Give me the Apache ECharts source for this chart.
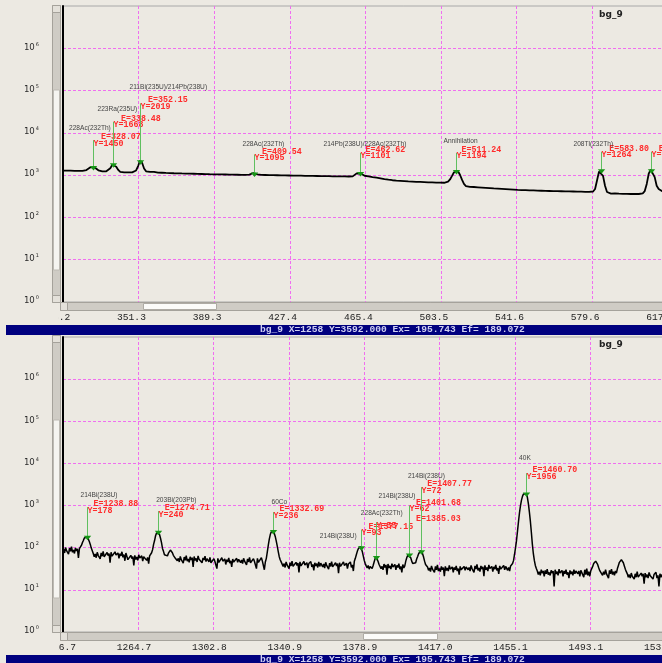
<!DOCTYPE html>
<html>
<head>
    <meta charset="utf-8" />
    <title>bg_9 spectrum</title>
    <script src="https://cdn.jsdelivr.net/npm/echarts@6/dist/echarts.min.js"></script>
    <style>
        html, body {
            margin: 0;
            padding: 0;
            overflow: hidden;
            background: #ece9e2
        }

        #spectrum {
            width: 800px;
            height: 663px
        }
    </style>
</head>
<body>
    <div id="spectrum"></div>

    <script>
        // ---- top panel: 313 - 616 keV, one value per keV ----
        const topStartE = 313;
        const topChannel = 1;
        const topCounts = [
            1282, 1268, 1276, 1259, 1281, 1270, 1262, 1285, 1266, 1274,
            1262, 1290, 1320, 1400, 1530, 1610, 1540, 1400, 1300, 1245, 1228,
            1218, 1232, 1290, 1450, 1760, 1850, 1580, 1330, 1190, 1150,
            1158, 1142, 1160, 1148, 1166, 1190, 1290,
            1640, 2200, 1960, 1440, 1230, 1175,
            1190, 1215, 1195, 1160, 1142, 1130, 1138,
            1118, 1126, 1108, 1122, 1102, 1110, 1094, 1106, 1088, 1097,
            1080, 1092, 1074, 1085, 1066, 1078, 1060, 1070, 1052, 1064,
            1046, 1058, 1040, 1052, 1036, 1048, 1030, 1044, 1026, 1040,
            1022, 1036, 1018, 1030, 1014, 1026, 1010, 1022, 1004, 1018,
            1000, 1014, 1008, 1030, 1080, 1125, 1100, 1040,
            1004, 1012, 996, 1008, 990, 1002, 986, 998, 980, 994,
            978, 990, 972, 986, 968, 982, 964, 978, 962, 974,
            958, 970, 954, 966, 950, 962, 946, 958, 942, 954,
            940, 950, 936, 946, 932, 944, 930, 940, 926, 938,
            924, 934, 920, 932, 918, 928, 920, 936,
            990, 1100, 1160, 1090, 1000,
            968, 950, 936, 916, 900, 884, 870, 852, 840, 822,
            808, 794, 782, 768, 758, 744, 740, 728, 732, 718,
            722, 708, 712, 700, 704, 692, 696, 684, 690, 678,
            684, 672, 678, 666, 672, 660, 666, 656, 662, 652,
            660, 668, 700, 790, 960, 1170, 1290, 1240, 1020, 780, 620, 552, 536,
            528, 520, 524, 512, 516, 504, 508, 496, 500, 488,
            492, 480, 484, 474, 478, 466, 472, 460, 466, 454,
            460, 448, 454, 442, 448, 438, 444, 434, 440, 430,
            436, 426, 434, 424, 430, 420, 428, 418, 424, 414,
            422, 412, 420, 410, 418, 408, 416, 406, 414, 404,
            412, 402, 410, 400, 408, 398, 406, 398, 404, 396,
            402, 398,
            410, 470, 760, 1220, 1350, 960, 560, 400, 372,
            366, 360, 368, 358, 364, 354, 362, 352, 360, 350,
            358, 352, 360, 350, 358, 356,
            372, 420, 620, 1080, 1350, 1220, 900, 560, 470, 430, 410, 400
        ];
        const topE0 = 313.2;
        const topStep = 38.05;
        const topTicks = ['313.2', '351.3', '389.3', '427.4', '465.4', '503.5', '541.6', '579.6', '617.7', '655.7'];

        const topPeakE = [328.07, 338.48, 352.15, 409.54, 462.62, 511.24, 583.80, 609.31];
        const topPeakCounts = [1610, 1850, 2200, 1125, 1160, 1290, 1350, 1350];
        const topPeakTops = [6710, 18230, 49750, 3077, 3357, 3357, 3548, 3548];
        const topPeakNames = ['228Ac(232Th)', '223Ra(235U)', '211Bi(235U)/214Pb(238U)', '228Ac(232Th)',
            '214Pb(238U)/228Ac(232Th)', 'Annihilation', '208Tl(232Th)', ''];
        const topPeakY = [1450, 1668, 2019, 1095, 1101, 1194, 1264, 1311];
        // name dx, name dy, E-label dx (px, relative to marker / line top)
        const topLabelLayout = [[-24.5, -11.7, 7.5], [-16, -12.4, 7.5], [-11, -16, 7.5], [-12, -10.3, 7.5],
            [-37, -8.7, 5], [-13, -12, 5], [-28, -7.7, 7.7], [0, -10, 7.3]];

        // ---- bottom panel: 1226 - 1532 keV, one value per 0.5 keV ----
        const bottomStartE = 1226;
        const bottomChannel = 0.5;
        const bottomCounts = [
            95, 79, 92, 75, 101, 85, 93, 70, 98, 82, 106, 78, 88, 73, 99, 84, 94, 57,
            95, 104, 113, 132, 148, 170, 178, 188, 182, 172, 140, 120, 98, 90,
            73, 61, 71, 58, 78, 66, 72, 54, 75, 63, 82, 61, 68, 56, 77, 65, 73, 44,
            78, 63, 70, 58, 80, 67, 61, 75, 56, 72, 64, 80, 59, 69, 49, 75,
            70, 52, 58, 48, 66, 55, 62, 38, 66, 53, 60, 50, 68, 57, 52, 64, 48, 61, 55, 68, 50, 59, 42, 64,
            66, 76, 90, 120, 148, 192, 224, 246, 238, 206, 168, 132, 96, 82, 68,
            62, 70, 64, 74, 80, 88, 83, 76, 66, 60, 56,
            58, 49, 56, 46, 62, 52, 57, 43, 60, 50, 65, 48, 54, 45, 61, 51,
            58, 35, 62, 50, 56, 46, 64, 53, 49, 59, 44, 57, 51, 63, 47, 55,
            54, 46, 59, 44, 49, 41, 55, 47, 52, 32, 56, 45, 50, 42, 58, 48,
            44, 54, 40, 52, 46, 57, 43, 49, 35, 54, 46, 51, 42, 56, 45, 53,
            53, 44, 51, 42, 56, 48, 52, 39, 54, 46, 59, 44, 49, 41, 55, 47,
            52, 32, 56, 45, 50, 42, 58, 48, 44, 30,
            46, 56, 80, 115, 160, 205, 240, 256, 250, 220, 185, 145, 110, 82, 62, 52, 46,
            43, 36, 42, 34, 46, 39, 42, 32, 44, 37, 48, 36, 40, 33, 45, 38, 43, 26, 46, 37,
            41, 34, 47, 39, 36, 44, 33, 42, 38, 47, 35, 40, 29, 44, 37, 42, 34, 46, 36, 43,
            42, 35, 41, 33, 45, 38, 41, 31, 43, 36, 47, 35, 39, 32, 44, 37, 42, 25, 44, 36,
            40, 34, 46, 38, 35, 43, 32, 41, 37, 46, 34, 39, 28,
            48, 56, 68, 82, 95, 104, 106, 98, 82, 64, 50, 42, 37,
            33, 38, 31, 36, 40, 32, 38,
            46, 55, 62, 58, 47, 40,
            44, 32, 36, 30, 41, 34, 39, 23, 41, 33, 37, 31, 42, 35, 32, 40, 30, 38, 34, 42, 31, 36, 26, 40, 33, 37,
            48, 58, 66, 71, 68, 58, 48, 42,
            38, 45, 44, 54,
            62, 72, 80, 85, 82, 72, 60, 48, 40, 36,
            35, 29, 33, 27, 37, 31, 34, 26, 36, 30, 39, 28, 32, 27, 36, 30, 34, 21, 36, 29,
            33, 28, 38, 31, 29, 35, 26, 34, 30, 37, 28, 32, 23, 36, 30, 33, 27, 36, 29, 35,
            36, 30, 34, 28, 38, 32, 35, 26, 37, 31, 40, 29, 33, 27, 37, 31, 35, 21, 38, 30,
            34, 28, 39, 32, 30, 36, 27, 35, 31, 39, 29, 33, 24, 37, 31, 34, 28, 38, 30, 36,
            35, 29, 34, 28, 37, 38,
            42, 50, 70, 100, 150, 250, 420, 680, 1000, 1350, 1650, 1880, 2020, 2050, 1900, 1550,
            1100, 700, 420, 230, 120, 72, 50, 38, 32,
            28, 23, 27, 22, 30, 25, 28, 21, 29, 24, 31, 23, 26, 22, 29, 25, 28, 12, 30, 24,
            27, 22, 31, 25, 23, 29, 21, 28, 24, 30, 23, 26, 19, 29, 24, 27, 22, 30, 24, 28,
            27, 24, 28, 21, 29, 26, 27, 20, 30, 23, 32, 22, 27, 21, 28,
            30, 36, 42, 46, 48, 46, 40, 34, 29, 27,
            28, 22, 27, 23, 30, 24, 26, 19, 29, 24, 31, 23, 27, 22, 28, 25,
            32, 38, 45, 50, 52, 50, 44, 37, 31, 27,
            24, 20, 23, 19, 25, 21, 23, 18, 24, 20, 27, 20, 22, 18, 25, 21, 24, 14, 25, 20,
            23, 19, 26, 22, 20, 24, 18, 23, 21, 26, 19, 22, 12, 24, 20, 23, 19, 25, 20, 24, 21
        ];
        const bottomE0 = 1226.7;
        const bottomStep = 38.07;
        const bottomTicks = ['1226.7', '1264.7', '1302.8', '1340.9', '1378.9', '1417.0', '1455.1', '1493.1', '1531.2', '1569.2'];

        const bottomPeakE = [1238.88, 1274.71, 1332.69, 1377.15, 1385.03, 1401.68, 1407.77, 1460.70];
        const bottomPeakCounts = [186, 246, 256, 106, 62, 71, 85, 2000];
        const bottomPeakTops = [916, 737, 698, 267, 404, 1005, 2729, 5860];
        const bottomPeakNames = ['214Bi(238U)', '203Bi(203Pb)', '60Co', '214Bi(238U)', '228Ac(232Th)',
            '214Bi(238U)', '214Bi(238U)', '40K'];
        const bottomPeakY = [178, 240, 236, 93, 55, 62, 72, 1956];
        const bottomLabelLayout = [[-7, -11.7, 6], [-2.3, -10.7, 6.3], [-2, -10, 6], [-41.7, 6.7, 7],
            [-15.7, -9.4, 39.5], [-31, -9, 6.6], [-13.6, -11, 5.7], [-7.4, -15, 6]];

        const statusText = 'bg_9 X=1258 Y=3592.000 Ex= 195.743 Ef= 189.072';

        const bg = '#ece9e2';
        const redFont = 'bold 8.3px "Liberation Mono"';
        const nameFont = '6.6px "Liberation Sans"';

        function txt(text, x, y, font, fill) {
            return {
                type: 'text',
                style: {
                    text: text, x: x, y: y, font: font, fill: fill,
                    textAlign: 'left', textVerticalAlign: 'middle', align: 'left', verticalAlign: 'middle'
                }
            };
        }

        function spectrumSeries(idx, startE, channel, E0, counts, width) {
            return {
                type: 'line',
                xAxisIndex: idx,
                yAxisIndex: idx,
                data: counts.map((c, i) => [startE + i * channel - E0, c]),
                showSymbol: false,
                symbol: 'none',
                lineStyle: { color: '#000', width: width },
                silent: true,
                z: 3
            };
        }

        function peakMarkers(idx, E0, energies, counts, tops, names, yLabels, layout) {
            return {
                type: 'custom',
                xAxisIndex: idx,
                yAxisIndex: idx,
                z: 5,
                silent: true,
                data: energies.map((e, i) => [e - E0, counts[i], tops[i]]),
                renderItem: function (params, api) {
                    const i = params.dataIndex;
                    const p = api.coord([api.value(0), api.value(1)]);
                    const t = api.coord([api.value(0), api.value(2)]);
                    const x = Math.round(p[0]) + 0.5;
                    const lay = layout[i];
                    const kids = [
                        { type: 'line', shape: { x1: x, y1: p[1], x2: x, y2: t[1] }, style: { stroke: '#5fbf5f', lineWidth: 1 } },
                        { type: 'polygon', shape: { points: [[x - 3.7, p[1] - 0.5], [x + 3.7, p[1] - 0.5], [x, p[1] + 4]] }, style: { fill: '#169616' } },
                        txt('E=' + energies[i].toFixed(2), x + lay[2], t[1] - 3, redFont, '#ff2b2b'),
                        txt('Y=' + yLabels[i], x, t[1] + 3.5, redFont, '#ff2b2b')
                    ];
                    if (names[i]) kids.push(txt(names[i], x + lay[0], t[1] + lay[1], nameFont, '#444'));
                    return { type: 'group', children: kids };
                }
            };
        }

        function xAxisFor(idx, step, ticks) {
            return {
                type: 'value',
                gridIndex: idx,
                min: 0,
                max: step * 9,
                interval: step,
                axisLine: { show: true, lineStyle: { color: '#9c9c9c', width: 1 } },
                axisTick: { show: false },
                splitLine: { show: true, showMinLine: false, lineStyle: { color: '#f06ef0', type: [3, 2], width: 1 } },
                axisLabel: {
                    margin: 10,
                    formatter: function (v) {
                        return '{a|' + ticks[Math.round(v / step)] + '}';
                    },
                    rich: {
                        a: { width: 43, align: 'left', fontFamily: 'Liberation Mono', fontSize: 9.6, color: '#222', lineHeight: 11 }
                    }
                }
            };
        }

        function yAxisFor(idx) {
            return {
                type: 'log',
                gridIndex: idx,
                logBase: 10,
                min: 1,
                max: 1e7,
                splitNumber: 7,
                axisLine: { show: true, lineStyle: { color: '#000', width: 2 } },
                axisTick: { show: false },
                splitLine: { show: true, showMinLine: false, showMaxLine: false, lineStyle: { color: '#f06ef0', type: [3, 2], width: 1 } },
                axisLabel: {
                    margin: 24,
                    showMaxLabel: false,
                    padding: [0, 0, 2, 0],
                    formatter: function (v) {
                        return '{b|10}{s|' + Math.round(Math.log10(v)) + '}';
                    },
                    rich: {
                        b: { fontFamily: 'DejaVu Sans', fontSize: 8.6, color: '#2b2b2b', lineHeight: 11 },
                        s: { fontFamily: 'DejaVu Sans', fontSize: 5, color: '#2b2b2b', verticalAlign: 'top', lineHeight: 6, padding: [0, 0, 0, 1] }
                    }
                }
            };
        }

        // window chrome: scroll bars, status bar, title
        function chrome(dy, hThumbX, hThumbW, vThumbY, vThumbH) {
            const r = (x, y, w, h, fill, stroke) => ({
                type: 'rect', z: 100, silent: true,
                shape: { x: x, y: y, width: w, height: h },
                style: { fill: fill, stroke: stroke || null, lineWidth: 1 }
            });
            const t = txt('bg_9', 599, 14.5 + dy, 'bold 9px "DejaVu Sans"', '#222');
            t.z = 100;
            const s = txt(statusText, 260, 330 + dy, 'bold 9.6px "Liberation Mono"', '#cfd0f2');
            s.z = 101;
            return [
                r(52.5, 5.5 + dy, 8, 297, '#cfccc5', '#a5a29b'),
                r(53.5, vThumbY + dy, 6, vThumbH, '#f5f4f0', '#bdbab3'),
                r(52.5, 5.5 + dy, 8, 7, '#e4e1da', '#a5a29b'),
                r(52.5, 295.5 + dy, 8, 7, '#e4e1da', '#a5a29b'),
                r(60.5, 302.5 + dy, 760, 8, '#cfccc5', '#a5a29b'),
                r(hThumbX + 0.5, 303.5 + dy, hThumbW, 6, '#fbfbf9', '#aeaba4'),
                r(60.5, 302.5 + dy, 7, 8, '#e4e1da', '#a5a29b'),
                r(0, 311.5 + dy, 58.5, 13, bg),
                r(6, 325 + dy, 800, 10, '#00007f'),
                s,
                t
            ];
        }

        const chart = echarts.init(document.getElementById('spectrum'));

        const option = {
            animation: false,
            backgroundColor: bg,
            grid: [
                { left: 63, top: 6, width: 680.4, height: 296, show: true, backgroundColor: bg, borderColor: '#a8a8a8', borderWidth: 1, outerBoundsMode: 'none' },
                { left: 63, top: 337, width: 677.7, height: 295, show: true, backgroundColor: bg, borderColor: '#a8a8a8', borderWidth: 1, outerBoundsMode: 'none' }
            ],
            xAxis: [xAxisFor(0, topStep, topTicks), xAxisFor(1, bottomStep, bottomTicks)],
            yAxis: [yAxisFor(0), yAxisFor(1)],
            graphic: chrome(0, 143, 73, 90, 180).concat(chrome(330, 363, 74, 90, 178)),
            series: [
                spectrumSeries(0, topStartE, topChannel, topE0, topCounts, 1.8),
                spectrumSeries(1, bottomStartE, bottomChannel, bottomE0, bottomCounts, 1.5),
                peakMarkers(0, topE0, topPeakE, topPeakCounts, topPeakTops, topPeakNames, topPeakY, topLabelLayout),
                peakMarkers(1, bottomE0, bottomPeakE, bottomPeakCounts, bottomPeakTops, bottomPeakNames, bottomPeakY, bottomLabelLayout)
            ]
        };

        chart.setOption(option);
    </script>
</body>
</html>
